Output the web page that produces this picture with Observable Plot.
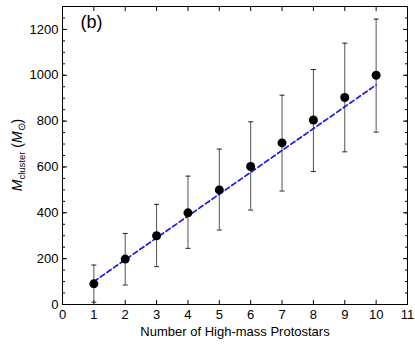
<!DOCTYPE html>
<html><head><meta charset="utf-8">
<script src="https://cdn.jsdelivr.net/npm/d3@7"></script>
<script src="https://cdn.jsdelivr.net/npm/@observablehq/plot@0.6"></script>
<style>body{margin:0;background:#fff} svg{font-family:"Liberation Sans",Arial,Helvetica,sans-serif}</style>
</head><body><div id="chart"></div>
<script>
const protostars = [1, 2, 3, 4, 5, 6, 7, 8, 9, 10];
const clusterMass = [90, 198, 300, 400, 500, 602, 705, 805, 903, 1000];
const massLow = [10, 85, 165, 245, 325, 412, 495, 580, 666, 752];
const massHigh = [172, 310, 437, 560, 678, 797, 913, 1025, 1140, 1245];
const fitX = [1, 10];
const fitY = [100, 958];
const xTicks = [0, 1, 2, 3, 4, 5, 6, 7, 8, 9, 10, 11];
const yTicks = [0, 200, 400, 600, 800, 1000, 1200];
const yMinorTicks = d3.range(0, 1301, 50);
const panelLabel = ["(b)"];

const rows = protostars.map((n, i) => ({n, m: clusterMass[i], lo: massLow[i], hi: massHigh[i]}));
const fit = fitX.map((x, i) => ({x, y: fitY[i]}));

const capSymbol = {draw(ctx, size) { const r = Math.sqrt(size / Math.PI); ctx.moveTo(-r, 0); ctx.lineTo(r, 0); }};
const blank = () => "";

const chart = Plot.plot({
  width: 415, height: 346,
  marginLeft: 62, marginRight: 8, marginTop: 6, marginBottom: 42,
  style: {fontFamily: '"Liberation Sans", Arial, sans-serif', fontSize: "13px", background: "#fff", color: "#000"},
  x: {domain: [0, 11]},
  y: {domain: [0, 1300]},
  marks: [
    Plot.axisX({ticks: xTicks, tickSize: 0, tickPadding: 5, fontSize: 13, label: "Number of High-mass Protostars", labelAnchor: "center", labelArrow: "none", labelOffset: 31}),
    Plot.axisX({ticks: xTicks, tickSize: -4, tickFormat: blank, label: null}),
    Plot.axisX({anchor: "top", ticks: xTicks, tickSize: -4, tickFormat: blank, label: null}),
    Plot.axisY({ticks: yTicks, tickSize: 0, tickPadding: 4, fontSize: 13, tickFormat: d3.format("d"), label: null}),
    Plot.axisY({ticks: yTicks, tickSize: -5, tickFormat: blank, label: null}),
    Plot.axisY({ticks: yMinorTicks, tickSize: -3, tickFormat: blank, label: null}),
    Plot.axisY({anchor: "right", ticks: yTicks, tickSize: -5, tickFormat: blank, label: null}),
    Plot.axisY({anchor: "right", ticks: yMinorTicks, tickSize: -3, tickFormat: blank, label: null}),
    Plot.frame({stroke: "#000"}),
    Plot.ruleX(rows, {x: "n", y1: "lo", y2: "hi", stroke: "#555", strokeWidth: 1}),
    Plot.dot(rows, {x: "n", y: "lo", symbol: capSymbol, r: 2.5, stroke: "#222", strokeWidth: 1}),
    Plot.dot(rows, {x: "n", y: "hi", symbol: capSymbol, r: 2.5, stroke: "#222", strokeWidth: 1}),
    Plot.line(fit, {x: "x", y: "y", stroke: "#1a1ae6", strokeWidth: 1.7, strokeDasharray: "5,3"}),
    Plot.dot(rows, {x: "n", y: "m", r: 4.5, fill: "#000", stroke: "none"}),
    Plot.text(panelLabel, {text: d => d, frameAnchor: "top-left", dx: 18, dy: 9, fontSize: 18, textAnchor: "start", lineAnchor: "top"})
  ]
});
document.getElementById("chart").append(chart);

const svg = d3.select(chart);
const t = svg.append("text").attr("transform", "translate(22,155) rotate(-90)")
  .attr("text-anchor", "middle").attr("font-size", 14).attr("fill", "#000");
t.append("tspan").attr("font-style", "italic").text("M");
t.append("tspan").attr("font-size", 9.5).attr("dy", 3).text("cluster");
t.append("tspan").attr("dy", -3).text(" (");
t.append("tspan").attr("font-style", "italic").text("M");
t.append("tspan").attr("font-size", 9.5).attr("dy", 3).text("⊙");
t.append("tspan").attr("dy", -3).text(")");
</script></body></html>
